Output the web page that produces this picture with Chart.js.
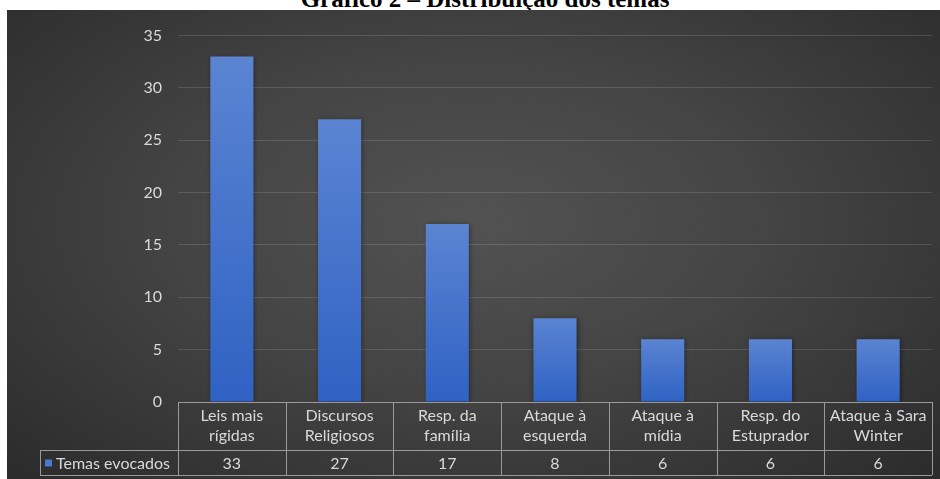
<!DOCTYPE html>
<html>
<head>
<meta charset="utf-8">
<script src="https://cdn.jsdelivr.net/npm/chart.js@4.4.0/dist/chart.umd.min.js"></script>
<style>
  html, body { margin: 0; padding: 0; background: #fff; overflow: hidden; }
  #titulo {
    position: absolute; left: 15px; width: 940px; top: -14px;
    text-align: center; font: bold 25px "Liberation Serif", serif; color: #000;
    line-height: 25px; white-space: nowrap;
  }
  #caixa {
    position: absolute; left: 7px; top: 10px; width: 933px; height: 469px;
    background: radial-gradient(ellipse at 50% 45%, #525252 0%, #444 45%, #2b2b2b 100%);
  }
</style>
</head>
<body>
<div id="titulo">Gráfico 2 – Distribuição dos temas</div>
<div id="caixa"><canvas id="grafico" width="933" height="469"></canvas></div>
<script>
// dados do gráfico
const categorias = [
  ['Leis mais', 'rígidas'],
  ['Discursos', 'Religiosos'],
  ['Resp. da', 'família'],
  ['Ataque à', 'esquerda'],
  ['Ataque à', 'mídia'],
  ['Resp. do', 'Estuprador'],
  ['Ataque à Sara', 'Winter']
];
const valores = [33, 27, 17, 8, 6, 6, 6];
const serieNome = 'Temas evocados';
const eixoMax = 35;
const eixoPasso = 5;

const corTexto = '#d9d9d9';
const corLinha = '#9a9a9a';
const fonte = 'Lato, "Open Sans", sans-serif';

// sombra leve nas barras
const sombraPlugin = {
  id: 'sombra',
  beforeDatasetsDraw(chart) {
    const ctx = chart.ctx;
    ctx.save();
    ctx.shadowColor = 'rgba(0,0,0,0.45)';
    ctx.shadowBlur = 5;
    ctx.shadowOffsetX = 1;
    ctx.shadowOffsetY = 1;
  },
  afterDatasetsDraw(chart) {
    chart.ctx.restore();
  }
};

// tabela de dados embaixo do gráfico
const tabelaPlugin = {
  id: 'tabela',
  afterDraw(chart) {
    const ctx = chart.ctx;
    const x = chart.scales.x;
    const area = chart.chartArea;
    const w = (area.right - area.left) / categorias.length;
    const topo = area.bottom;
    const meio = topo + 48;
    const fim = meio + 25;
    const legEsq = 33;

    ctx.save();
    ctx.strokeStyle = corLinha;
    ctx.lineWidth = 1;
    ctx.beginPath();
    ctx.moveTo(area.left, topo + 0.5); ctx.lineTo(area.right, topo + 0.5);
    ctx.moveTo(legEsq, meio + 0.5); ctx.lineTo(area.right, meio + 0.5);
    ctx.moveTo(legEsq, fim + 0.5); ctx.lineTo(area.right, fim + 0.5);
    for (let i = 0; i <= categorias.length; i++) {
      const px = Math.round(x.getPixelForValue(i) - w / 2) + 0.5;
      ctx.moveTo(px, topo); ctx.lineTo(px, fim);
    }
    ctx.moveTo(legEsq + 0.5, meio); ctx.lineTo(legEsq + 0.5, fim);
    ctx.stroke();

    ctx.fillStyle = corTexto;
    ctx.font = '16px ' + fonte;
    ctx.textAlign = 'center';
    ctx.textBaseline = 'middle';
    const ym = (meio + fim) / 2 + 1;
    valores.forEach((v, i) => {
      ctx.fillText(String(v), x.getPixelForValue(i), ym);
    });

    // legenda
    ctx.fillStyle = '#4a77d0';
    ctx.fillRect(legEsq + 5, ym - 4, 7, 7);
    ctx.fillStyle = corTexto;
    ctx.textAlign = 'left';
    ctx.fillText(serieNome, legEsq + 16, ym);
    ctx.restore();
  }
};

function gradienteBarra(context) {
  const chart = context.chart;
  const area = chart.chartArea;
  if (!area) return '#4472c4';
  const v = context.raw;
  const y0 = chart.scales.y.getPixelForValue(v);
  const y1 = chart.scales.y.getPixelForValue(0);
  const g = chart.ctx.createLinearGradient(0, y0, 0, y1);
  g.addColorStop(0, '#5b84d2');
  g.addColorStop(1, '#2f62c4');
  return g;
}

const config = {
  type: 'bar',
  data: {
    labels: categorias,
    datasets: [{
      label: serieNome,
      data: valores,
      backgroundColor: gradienteBarra,
      borderWidth: 0,
      barPercentage: 0.4,
      categoryPercentage: 1
    }]
  },
  options: {
    responsive: false,
    animation: false,
    layout: { padding: { top: 22, right: 8, bottom: 4, left: 0 } },
    plugins: {
      legend: { display: false },
      title: { display: false },
      tooltip: { enabled: false }
    },
    scales: {
      y: {
        min: 0,
        max: eixoMax,
        ticks: { stepSize: eixoPasso, color: corTexto, padding: 16, font: { family: fonte, size: 16 } },
        grid: { color: 'rgba(255,255,255,0.13)', drawTicks: false },
        border: { display: false },
        afterFit(scale) { scale.width = 171; }
      },
      x: {
        ticks: { color: corTexto, padding: 4, maxRotation: 0, autoSkip: false, font: { family: fonte, size: 16, lineHeight: 1.25 } },
        grid: { display: false, drawTicks: false },
        border: { display: false },
        afterFit(scale) { scale.height = 73; }
      }
    }
  },
  plugins: [sombraPlugin, tabelaPlugin]
};

var grafico = new Chart(document.getElementById('grafico'), config);
</script>
</body>
</html>
